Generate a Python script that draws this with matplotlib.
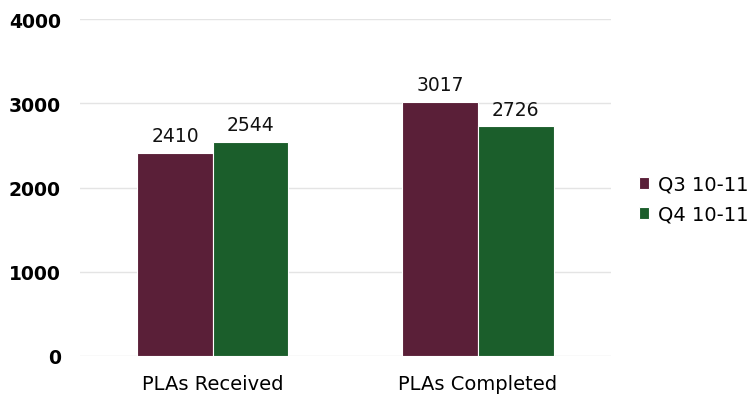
import numpy as np
import matplotlib
matplotlib.use('agg')
from matplotlib import pyplot as plt

categories = ["PLAs Received", "PLAs Completed"]
series_names = ["Q3 10-11", "Q4 10-11"]
q3_values = [2410, 3017]
q4_values = [2544, 2726]
colors = ["#5a1f38", "#1b5e2b"]

fig = plt.figure(figsize=(7.51, 4.02), dpi=100)
ax = fig.add_axes([0.107, 0.112, 0.706, 0.838])

x = np.arange(len(categories))
w = 0.285
for vals, off, col, name in [(q3_values, -w / 2, colors[0], series_names[0]),
                             (q4_values, w / 2, colors[1], series_names[1])]:
    bars = ax.bar(x + off, vals, width=w, color=col, label=name,
                  edgecolor="white", linewidth=0.8, zorder=2)
    for b, v in zip(bars, vals):
        ax.text(b.get_x() + b.get_width() / 2, v + 90, str(v),
                ha="center", va="bottom", fontsize=13.5, color="#111111",
                fontweight="medium")

ax.set_xlim(-0.5, 1.5)
ax.set_ylim(0, 4000)
ax.set_yticks([0, 1000, 2000, 3000, 4000])
ax.set_xticks(x)
ax.set_xticklabels(categories, fontsize=14)
ax.tick_params(axis="y", labelsize=13.5, length=0, pad=14)
ax.tick_params(axis="x", length=0, pad=13)
for lab in ax.get_yticklabels():
    lab.set_fontweight("bold")
ax.yaxis.grid(True, color="#e4e4e4", linewidth=1, zorder=0)
ax.set_axisbelow(True)
for s in ax.spines.values():
    s.set_visible(False)

ax.legend(loc="center left", bbox_to_anchor=(1.02, 0.465), frameon=False,
          fontsize=14, handlelength=0.55, handleheight=0.55, handletextpad=0.45,
          labelspacing=0.55)

plt.savefig("out.png", dpi=100)
